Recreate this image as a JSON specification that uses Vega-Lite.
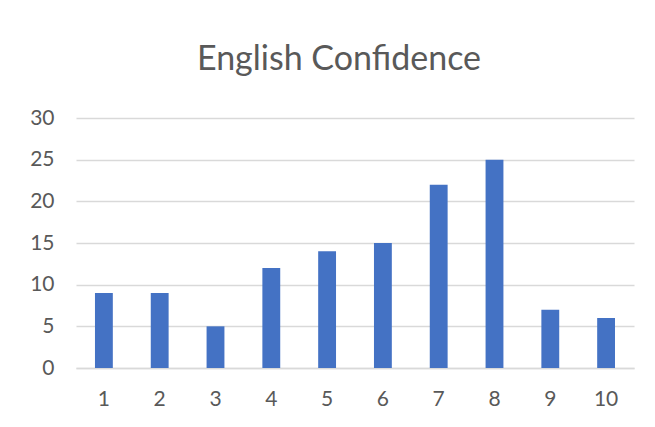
{
  "$schema": "https://vega.github.io/schema/vega-lite/v6.json",
  "autosize": "none",
  "width": 558,
  "height": 250,
  "padding": {"left": 76, "top": 118, "right": 21, "bottom": 59},
  "background": "white",
  "title": {
    "text": "English Confidence",
    "font": "Lato",
    "fontSize": 34,
    "fontWeight": "normal",
    "color": "#595959",
    "anchor": "middle",
    "frame": "group",
    "baseline": "alphabetic",
    "offset": 3,
    "dx": -16
  },
  "data": {
    "values": [
      {"rating": "1", "count": 9},
      {"rating": "2", "count": 9},
      {"rating": "3", "count": 5},
      {"rating": "4", "count": 12},
      {"rating": "5", "count": 14},
      {"rating": "6", "count": 15},
      {"rating": "7", "count": 22},
      {"rating": "8", "count": 25},
      {"rating": "9", "count": 7},
      {"rating": "10", "count": 6}
    ]
  },
  "mark": {"type": "bar", "color": "#4472C4"},
  "encoding": {
    "x": {
      "field": "rating",
      "type": "ordinal",
      "sort": null,
      "scale": {"paddingInner": 0.68, "paddingOuter": 0.34},
      "axis": {
        "title": null,
        "labelAngle": 0,
        "labelFont": "Lato",
        "labelFontSize": 21,
        "labelColor": "#595959",
        "ticks": false,
        "domain": true,
        "domainColor": "#D9D9D9",
        "domainWidth": 1.5,
        "labelPadding": 20,
        "labelBaseline": "top"
      }
    },
    "y": {
      "field": "count",
      "type": "quantitative",
      "scale": {"domain": [0, 30], "nice": false},
      "axis": {
        "title": null,
        "values": [0, 5, 10, 15, 20, 25, 30],
        "labelFont": "Lato",
        "labelFontSize": 21,
        "labelColor": "#595959",
        "ticks": false,
        "domain": false,
        "gridColor": "#D9D9D9",
        "gridWidth": 1.5,
        "labelPadding": 22
      }
    }
  },
  "config": {"view": {"stroke": null}}
}
